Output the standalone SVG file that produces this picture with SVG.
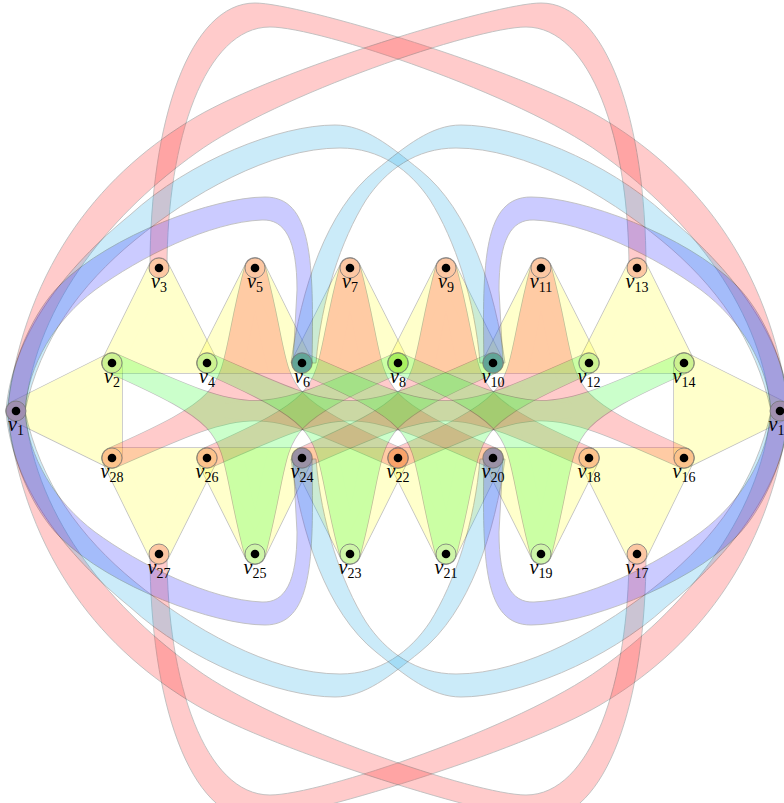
<svg xmlns="http://www.w3.org/2000/svg" xmlns:xlink="http://www.w3.org/1999/xlink" width="784" height="803" viewBox="0 0 784 803">
<style>
.e{opacity:.25}
.b{fill:none;stroke:#000;stroke-width:21.5;stroke-linejoin:round}
.f{stroke-width:20;stroke-linejoin:round}
.yl .f{fill:#ff3;stroke:#ff3}
.rd .f{fill:#f33;stroke:#f33}
.gr .f{fill:#3f3;stroke:#3f3}
.rb{stroke:#000;stroke-width:.9}
.rr{fill:#f33}
.cy{fill:#33b3eb}
.bl{fill:#33f}
.vd{stroke:#777;stroke-width:.8}
.lb{font-family:"Liberation Serif","DejaVu Serif",serif;font-size:20px;font-style:italic;fill:#000}
.sb{font-size:14px;font-style:normal}
</style>
<defs>
<path id="t1" d="M16,411 L112,363 L112,458 Z"/>
<path id="t2" d="M112,363 L159,268 L207,363 Z"/>
<path id="t3" d="M207,363 L255,268 L302,363 Z"/>
<path id="t4" d="M302,363 L350,268 L398,363 Z"/>
<path id="t5" d="M398,363 L446,268 L493,363 Z"/>
<path id="t6" d="M493,363 L541,268 L589,363 Z"/>
<path id="t7" d="M589,363 L637,268 L684,363 Z"/>
<path id="t8" d="M684,363 L780,411 L684,458 Z"/>
<path id="t9" d="M589,458 L637,554 L684,458 Z"/>
<path id="t10" d="M493,458 L541,554 L589,458 Z"/>
<path id="t11" d="M398,458 L446,554 L493,458 Z"/>
<path id="t12" d="M302,458 L350,554 L398,458 Z"/>
<path id="t13" d="M207,458 L255,554 L302,458 Z"/>
<path id="t14" d="M112,458 L159,554 L207,458 Z"/>
<path id="r5" d="M255,268 C221,394.7 255,394.7 112,458 C255,394.7 255,394.7 398,458 C255,394.7 289,394.7 255,268 Z"/>
<path id="r7" d="M350,268 C316,394.7 350,394.7 207,458 C350,394.7 350,394.7 493,458 C350,394.7 384,394.7 350,268 Z"/>
<path id="r9" d="M446,268 C412,394.7 446,394.7 302,458 C446,394.7 446,394.7 589,458 C446,394.7 480,394.7 446,268 Z"/>
<path id="r11" d="M541,268 C507,394.7 541,394.7 398,458 C541,394.7 541,394.7 684,458 C541,394.7 575,394.7 541,268 Z"/>
<path id="g25" d="M255,554 C221,426.7 255,426.7 112,363 C255,426.7 255,426.7 398,363 C255,426.7 289,426.7 255,554 Z"/>
<path id="g23" d="M350,554 C316,426.7 350,426.7 207,363 C350,426.7 350,426.7 493,363 C350,426.7 384,426.7 350,554 Z"/>
<path id="g21" d="M446,554 C412,426.7 446,426.7 302,363 C446,426.7 446,426.7 589,363 C446,426.7 480,426.7 446,554 Z"/>
<path id="g19" d="M541,554 C507,426.7 541,426.7 398,363 C541,426.7 541,426.7 684,363 C541,426.7 575,426.7 541,554 Z"/>
<path id="rA" d="M150,268 C150,120 190,3 255,3 C300,3 520,70 600,117 C690,170 770,260 789,411 L771,411 C760,300 680,210 600,153 C520,95 320,27 270,27 C205,27 167,140 167,268 Z"/>
<path id="cE" d="M505,363 C495,290 470,210 420,170 C390,146 365,125 335,125 C280,125 190,160 130,215 C65,268 12,335 6,411 L25,411 C40,340 80,285 135,240 C190,195 270,148 340,148 C380,148 410,170 430,200 C455,240 475,300 480,363 Z"/>
<path id="bG" d="M312,363 C314,260 312,197 265,197 C215,197 110,235 60,285 C35,310 10,360 8,411 L25,411 C28,365 55,320 95,290 C140,257 210,222 262,220 C285,219 297,240 297,290 L293,363 Z"/>
</defs>
<g id="edges">
<g id="e-v1-v2-v28" class="e yl"><use xlink:href="#t1" class="b"/><use xlink:href="#t1" class="f"/></g>
<g id="e-v2-v3-v4" class="e yl"><use xlink:href="#t2" class="b"/><use xlink:href="#t2" class="f"/></g>
<g id="e-v4-v5-v6" class="e yl"><use xlink:href="#t3" class="b"/><use xlink:href="#t3" class="f"/></g>
<g id="e-v6-v7-v8" class="e yl"><use xlink:href="#t4" class="b"/><use xlink:href="#t4" class="f"/></g>
<g id="e-v8-v9-v10" class="e yl"><use xlink:href="#t5" class="b"/><use xlink:href="#t5" class="f"/></g>
<g id="e-v10-v11-v12" class="e yl"><use xlink:href="#t6" class="b"/><use xlink:href="#t6" class="f"/></g>
<g id="e-v12-v13-v14" class="e yl"><use xlink:href="#t7" class="b"/><use xlink:href="#t7" class="f"/></g>
<g id="e-v14-v15-v16" class="e yl"><use xlink:href="#t8" class="b"/><use xlink:href="#t8" class="f"/></g>
<g id="e-v16-v17-v18" class="e yl"><use xlink:href="#t9" class="b"/><use xlink:href="#t9" class="f"/></g>
<g id="e-v18-v19-v20" class="e yl"><use xlink:href="#t10" class="b"/><use xlink:href="#t10" class="f"/></g>
<g id="e-v20-v21-v22" class="e yl"><use xlink:href="#t11" class="b"/><use xlink:href="#t11" class="f"/></g>
<g id="e-v22-v23-v24" class="e yl"><use xlink:href="#t12" class="b"/><use xlink:href="#t12" class="f"/></g>
<g id="e-v24-v25-v26" class="e yl"><use xlink:href="#t13" class="b"/><use xlink:href="#t13" class="f"/></g>
<g id="e-v26-v27-v28" class="e yl"><use xlink:href="#t14" class="b"/><use xlink:href="#t14" class="f"/></g>
<g id="e-v5-v28-v22" class="e rd"><use xlink:href="#r5" class="b"/><use xlink:href="#r5" class="f"/></g>
<g id="e-v7-v26-v20" class="e rd"><use xlink:href="#r7" class="b"/><use xlink:href="#r7" class="f"/></g>
<g id="e-v9-v24-v18" class="e rd"><use xlink:href="#r9" class="b"/><use xlink:href="#r9" class="f"/></g>
<g id="e-v11-v22-v16" class="e rd"><use xlink:href="#r11" class="b"/><use xlink:href="#r11" class="f"/></g>
<g id="e-v25-v2-v8" class="e gr"><use xlink:href="#g25" class="b"/><use xlink:href="#g25" class="f"/></g>
<g id="e-v23-v4-v10" class="e gr"><use xlink:href="#g23" class="b"/><use xlink:href="#g23" class="f"/></g>
<g id="e-v21-v6-v12" class="e gr"><use xlink:href="#g21" class="b"/><use xlink:href="#g21" class="f"/></g>
<g id="e-v19-v8-v14" class="e gr"><use xlink:href="#g19" class="b"/><use xlink:href="#g19" class="f"/></g>
<g id="e-v3-v15" class="e"><use xlink:href="#rA" class="rb rr"/></g>
<g id="e-v13-v1" class="e"><use xlink:href="#rA" class="rb rr" transform="matrix(-1 0 0 1 796 0)"/></g>
<g id="e-v27-v15" class="e"><use xlink:href="#rA" class="rb rr" transform="matrix(1 0 0 -1 0 822)"/></g>
<g id="e-v17-v1" class="e"><use xlink:href="#rA" class="rb rr" transform="matrix(-1 0 0 -1 796 822)"/></g>
<g id="e-v10-v1" class="e"><use xlink:href="#cE" class="rb cy"/></g>
<g id="e-v6-v15" class="e"><use xlink:href="#cE" class="rb cy" transform="matrix(-1 0 0 1 796 0)"/></g>
<g id="e-v20-v1" class="e"><use xlink:href="#cE" class="rb cy" transform="matrix(1 0 0 -1 0 822)"/></g>
<g id="e-v24-v15" class="e"><use xlink:href="#cE" class="rb cy" transform="matrix(-1 0 0 -1 796 822)"/></g>
<g id="e-v6-v1" class="e"><use xlink:href="#bG" class="rb bl"/></g>
<g id="e-v10-v15" class="e"><use xlink:href="#bG" class="rb bl" transform="matrix(-1 0 0 1 796 0)"/></g>
<g id="e-v24-v1" class="e"><use xlink:href="#bG" class="rb bl" transform="matrix(1 0 0 -1 0 822)"/></g>
<g id="e-v20-v15" class="e"><use xlink:href="#bG" class="rb bl" transform="matrix(-1 0 0 -1 796 822)"/></g>
</g>
<g id="vertices">
<g id="v1"><circle class="vd" cx="16" cy="411" r="10" fill="#a08fb0"/><circle cx="16" cy="411" r="4.3"/><text class="lb" x="16" y="431" text-anchor="middle">v<tspan class="sb" dy="4">1</tspan></text></g>
<g id="v2"><circle class="vd" cx="112" cy="363" r="10" fill="#cdf291"/><circle cx="112" cy="363" r="4.3"/><text class="lb" x="112" y="383" text-anchor="middle">v<tspan class="sb" dy="4">2</tspan></text></g>
<g id="v3"><circle class="vd" cx="159" cy="268" r="10" fill="#fcc7a3"/><circle cx="159" cy="268" r="4.3"/><text class="lb" x="159" y="288" text-anchor="middle">v<tspan class="sb" dy="4">3</tspan></text></g>
<g id="v4"><circle class="vd" cx="207" cy="363" r="10" fill="#cdf291"/><circle cx="207" cy="363" r="4.3"/><text class="lb" x="207" y="383" text-anchor="middle">v<tspan class="sb" dy="4">4</tspan></text></g>
<g id="v5"><circle class="vd" cx="255" cy="268" r="10" fill="#fcc7a3"/><circle cx="255" cy="268" r="4.3"/><text class="lb" x="255" y="288" text-anchor="middle">v<tspan class="sb" dy="4">5</tspan></text></g>
<g id="v6"><circle class="vd" cx="302" cy="363" r="10" fill="#62a597"/><circle cx="302" cy="363" r="4.3"/><text class="lb" x="302" y="383" text-anchor="middle">v<tspan class="sb" dy="4">6</tspan></text></g>
<g id="v7"><circle class="vd" cx="350" cy="268" r="10" fill="#fcc7a3"/><circle cx="350" cy="268" r="4.3"/><text class="lb" x="350" y="288" text-anchor="middle">v<tspan class="sb" dy="4">7</tspan></text></g>
<g id="v8"><circle class="vd" cx="398" cy="363" r="10" fill="#a9f060"/><circle cx="398" cy="363" r="4.3"/><text class="lb" x="398" y="383" text-anchor="middle">v<tspan class="sb" dy="4">8</tspan></text></g>
<g id="v9"><circle class="vd" cx="446" cy="268" r="10" fill="#fcc7a3"/><circle cx="446" cy="268" r="4.3"/><text class="lb" x="446" y="288" text-anchor="middle">v<tspan class="sb" dy="4">9</tspan></text></g>
<g id="v10"><circle class="vd" cx="493" cy="363" r="10" fill="#62a597"/><circle cx="493" cy="363" r="4.3"/><text class="lb" x="493" y="383" text-anchor="middle">v<tspan class="sb" dy="4">10</tspan></text></g>
<g id="v11"><circle class="vd" cx="541" cy="268" r="10" fill="#fcc7a3"/><circle cx="541" cy="268" r="4.3"/><text class="lb" x="541" y="288" text-anchor="middle">v<tspan class="sb" dy="4">11</tspan></text></g>
<g id="v12"><circle class="vd" cx="589" cy="363" r="10" fill="#cdf291"/><circle cx="589" cy="363" r="4.3"/><text class="lb" x="589" y="383" text-anchor="middle">v<tspan class="sb" dy="4">12</tspan></text></g>
<g id="v13"><circle class="vd" cx="637" cy="268" r="10" fill="#fcc7a3"/><circle cx="637" cy="268" r="4.3"/><text class="lb" x="637" y="288" text-anchor="middle">v<tspan class="sb" dy="4">13</tspan></text></g>
<g id="v14"><circle class="vd" cx="684" cy="363" r="10" fill="#cdf291"/><circle cx="684" cy="363" r="4.3"/><text class="lb" x="684" y="383" text-anchor="middle">v<tspan class="sb" dy="4">14</tspan></text></g>
<g id="v15"><circle class="vd" cx="780" cy="411" r="10" fill="#a08fb0"/><circle cx="780" cy="411" r="4.3"/><text class="lb" x="780" y="431" text-anchor="middle">v<tspan class="sb" dy="4">15</tspan></text></g>
<g id="v16"><circle class="vd" cx="684" cy="458" r="10" fill="#fcc38c"/><circle cx="684" cy="458" r="4.3"/><text class="lb" x="684" y="478" text-anchor="middle">v<tspan class="sb" dy="4">16</tspan></text></g>
<g id="v17"><circle class="vd" cx="637" cy="554" r="10" fill="#fcc7a3"/><circle cx="637" cy="554" r="4.3"/><text class="lb" x="637" y="574" text-anchor="middle">v<tspan class="sb" dy="4">17</tspan></text></g>
<g id="v18"><circle class="vd" cx="589" cy="458" r="10" fill="#fcc38c"/><circle cx="589" cy="458" r="4.3"/><text class="lb" x="589" y="478" text-anchor="middle">v<tspan class="sb" dy="4">18</tspan></text></g>
<g id="v19"><circle class="vd" cx="541" cy="554" r="10" fill="#cef5a8"/><circle cx="541" cy="554" r="4.3"/><text class="lb" x="541" y="574" text-anchor="middle">v<tspan class="sb" dy="4">19</tspan></text></g>
<g id="v20"><circle class="vd" cx="493" cy="458" r="10" fill="#9a91a5"/><circle cx="493" cy="458" r="4.3"/><text class="lb" x="493" y="478" text-anchor="middle">v<tspan class="sb" dy="4">20</tspan></text></g>
<g id="v21"><circle class="vd" cx="446" cy="554" r="10" fill="#cef5a8"/><circle cx="446" cy="554" r="4.3"/><text class="lb" x="446" y="574" text-anchor="middle">v<tspan class="sb" dy="4">21</tspan></text></g>
<g id="v22"><circle class="vd" cx="398" cy="458" r="10" fill="#f9a36a"/><circle cx="398" cy="458" r="4.3"/><text class="lb" x="398" y="478" text-anchor="middle">v<tspan class="sb" dy="4">22</tspan></text></g>
<g id="v23"><circle class="vd" cx="350" cy="554" r="10" fill="#cef5a8"/><circle cx="350" cy="554" r="4.3"/><text class="lb" x="350" y="574" text-anchor="middle">v<tspan class="sb" dy="4">23</tspan></text></g>
<g id="v24"><circle class="vd" cx="302" cy="458" r="10" fill="#9a91a5"/><circle cx="302" cy="458" r="4.3"/><text class="lb" x="302" y="478" text-anchor="middle">v<tspan class="sb" dy="4">24</tspan></text></g>
<g id="v25"><circle class="vd" cx="255" cy="554" r="10" fill="#cef5a8"/><circle cx="255" cy="554" r="4.3"/><text class="lb" x="255" y="574" text-anchor="middle">v<tspan class="sb" dy="4">25</tspan></text></g>
<g id="v26"><circle class="vd" cx="207" cy="458" r="10" fill="#fcc38c"/><circle cx="207" cy="458" r="4.3"/><text class="lb" x="207" y="478" text-anchor="middle">v<tspan class="sb" dy="4">26</tspan></text></g>
<g id="v27"><circle class="vd" cx="159" cy="554" r="10" fill="#fcc7a3"/><circle cx="159" cy="554" r="4.3"/><text class="lb" x="159" y="574" text-anchor="middle">v<tspan class="sb" dy="4">27</tspan></text></g>
<g id="v28"><circle class="vd" cx="112" cy="458" r="10" fill="#fcc38c"/><circle cx="112" cy="458" r="4.3"/><text class="lb" x="112" y="478" text-anchor="middle">v<tspan class="sb" dy="4">28</tspan></text></g>
</g>
</svg>
